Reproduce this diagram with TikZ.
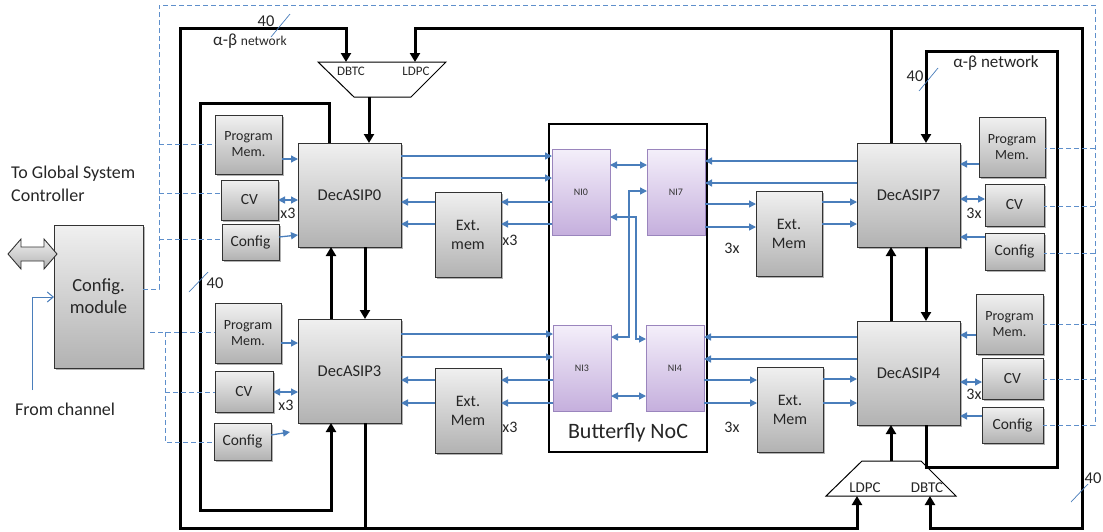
\documentclass[tikz,border=0pt]{standalone}
\usepackage{fontspec}
\setmainfont{Carlito}
\usetikzlibrary{arrows.meta,shadows}
\definecolor{ablue}{HTML}{4A7EBB}
\definecolor{dblue}{HTML}{5E8FCB}
\definecolor{gtop}{HTML}{F0F0F0}
\definecolor{gbot}{HTML}{B2B2B2}
\definecolor{ptop}{HTML}{F4EFFA}
\definecolor{pbot}{HTML}{C5AFDD}
\definecolor{pbord}{HTML}{9A85BD}
\newcommand\fsz[2]{\fontsize{#1}{#2}\selectfont}
\newcommand\mybox[7]{\node[#6, minimum width={(#4-#2)*1pt}, minimum height={(#5-#3)*1pt}] (#1) at ({(#2+#4)/2},{(#3+#5)/2}) {#7};}
\begin{document}
\begin{tikzpicture}[x=1pt,y=-1pt,
  gbox/.style={draw=black!80, line width=0.9pt, top color=gtop, bottom color=gbot,
     drop shadow={shadow xshift=1.5pt,shadow yshift=-1.5pt,fill=black,opacity=0.3},
     inner sep=0pt, outer sep=0pt, align=center, text=black!85},
  nibox/.style={draw=pbord, line width=0.9pt, top color=ptop, bottom color=pbot,
     drop shadow={shadow xshift=1.2pt,shadow yshift=-1.2pt,fill=black,opacity=0.2},
     inner sep=0pt, outer sep=0pt, font=\fsz{10}{12}, text=black!80},
  kline/.style={line width=3pt},
  karrow/.style={line width=3pt, -{Triangle[length=9pt,width=10pt]}},
  barrow/.style={draw=ablue, line width=1.3pt, -{Triangle[length=7pt,width=7pt]}},
  bdarrow/.style={draw=ablue, line width=1.3pt, {Triangle[length=7pt,width=7pt]}-{Triangle[length=7pt,width=7pt]}},
  dline/.style={draw=dblue, line width=1pt, dash pattern=on 5pt off 3pt},
  slash/.style={draw=ablue, line width=0.7pt},
  lbl/.style={inner sep=0pt, text=black!85}
]
\useasboundingbox (0,0) rectangle (1103,531);

% ---------- boxes ----------
\mybox{cfg}{54}{225}{143}{368}{gbox,font=\fsz{18.5}{22}}{Config.\\module}
\mybox{pm0}{215}{115}{282}{174}{gbox,font=\fsz{14}{16}}{Program\\Mem.}
\mybox{cv0}{221}{180}{278}{220}{gbox,font=\fsz{15.5}{18}}{CV}
\mybox{cf0}{222}{224}{279}{260}{gbox,font=\fsz{15.5}{18}}{Config}
\mybox{dec0}{298}{143}{401}{247}{gbox,font=\fsz{16.5}{19}}{DecASIP0}
\mybox{em0}{435}{192}{501}{277}{gbox,font=\fsz{16}{19}}{Ext.\\mem}
\mybox{pm3}{215}{303}{281}{363}{gbox,font=\fsz{14}{16}}{Program\\Mem.}
\mybox{cv3}{215}{371}{273}{412}{gbox,font=\fsz{15.5}{18}}{CV}
\mybox{cf3}{214}{423}{271}{460}{gbox,font=\fsz{15.5}{18}}{Config}
\mybox{dec3}{298}{319}{401}{423}{gbox,font=\fsz{16.5}{19}}{DecASIP3}
\mybox{em3}{435}{368}{501}{453}{gbox,font=\fsz{16}{19}}{Ext.\\Mem}

\node[draw=black, line width=2.8pt, minimum width=158pt, minimum height=328pt, inner sep=0pt] (noc) at (628,288) {};
\node[lbl, font=\fsz{22}{26}] (noclbl) at (628,433) {Butterfly NoC};
\mybox{ni0}{552}{149}{610}{235}{nibox}{NI0}
\mybox{ni7}{647}{149}{705}{235}{nibox}{NI7}
\mybox{ni3}{553}{325}{611}{411}{nibox}{NI3}
\mybox{ni4}{646}{325}{704}{411}{nibox}{NI4}

\mybox{em7}{756}{191}{822}{276}{gbox,font=\fsz{16}{19}}{Ext.\\Mem}
\mybox{em4}{757}{367}{823}{452}{gbox,font=\fsz{16}{19}}{Ext.\\Mem}
\mybox{dec7}{857}{143}{960}{247}{gbox,font=\fsz{16.5}{19}}{DecASIP7}
\mybox{dec4}{857}{321}{960}{425}{gbox,font=\fsz{16.5}{19}}{DecASIP4}
\mybox{pm7}{979}{117}{1045}{177}{gbox,font=\fsz{14}{16}}{Program\\Mem.}
\mybox{cv7}{985}{184}{1044}{226}{gbox,font=\fsz{15.5}{18}}{CV}
\mybox{cf7}{985}{233}{1044}{270}{gbox,font=\fsz{15.5}{18}}{Config}
\mybox{pm4}{976}{294}{1043}{354}{gbox,font=\fsz{14}{16}}{Program\\Mem.}
\mybox{cv4}{982}{358}{1043}{399}{gbox,font=\fsz{15.5}{18}}{CV}
\mybox{cf4}{982}{407}{1043}{443}{gbox,font=\fsz{15.5}{18}}{Config}

% ---------- multiplexers ----------
\draw[line width=1pt, fill=white] (318,62) -- (446,62) -- (411,97) -- (354,97) -- cycle;
\node[lbl, font=\fsz{13}{15}] (tdbtc) at (351,71) {DBTC};
\node[lbl, font=\fsz{13}{15}] (tldpc) at (416,71) {LDPC};
\coordinate (tmDB) at (346,62);
\coordinate (tmLD) at (415,62);
\coordinate (tmOut) at (369,97);

\draw[line width=1pt, fill=white] (862,461) -- (921,461) -- (956,496) -- (826,496) -- cycle;
\node[lbl, font=\fsz{15}{17}] (bldpc) at (865,488) {LDPC};
\node[lbl, font=\fsz{15}{17}] (bdbtc) at (927,488) {DBTC};
\coordinate (bmLD) at (857,496);
\coordinate (bmDB) at (930,496);
\coordinate (bmOut) at (891,461);

% ---------- thick black network ----------
\draw[karrow] (365,0 |- dec3.south) -- (365,528) -- (180,528) -- (180,28) -| (tmDB);
\draw[karrow] (365,528) -| (bmLD);
\draw[karrow] (891,0 |- dec7.north) -- (891,28) -| (tmLD);
\draw[karrow] (891,28) -- (1082,28) -- (1082,528) -| (bmDB);
\draw[karrow] (329,0 |- dec0.north) -- (329,103) -- (200,103) -- (200,510) -| (331,0 |- dec3.south);
\draw[karrow] (tmOut) -- (369,0 |- dec0.north);
\draw[karrow] (331,0 |- dec3.north) -- (331,0 |- dec0.south);
\draw[karrow] (365,0 |- dec0.south) -- (365,0 |- dec3.north);
\draw[karrow] (bmOut) -- (891,0 |- dec4.south);
\draw[karrow] (891,0 |- dec4.north) -- (891,0 |- dec7.south);
\draw[karrow] (926,0 |- dec7.south) -- (926,0 |- dec4.north);
\draw[karrow] (926,0 |- dec4.south) -- (926,467) -- (1057,467) -- (1057,51) -| (926,0 |- dec7.north);

% ---------- blue connectors, left ----------
\draw[barrow] (pm0.east |- 0,159) -- (dec0.west |- 0,159);
\draw[bdarrow] (cv0.east |- 0,200) -- (dec0.west |- 0,200);
\draw[barrow] (cf0.east |- 0,237) -- (dec0.west |- 0,235);
\draw[barrow] (dec0.east |- 0,156) -- (ni0.west |- 0,156);
\draw[barrow] (dec0.east |- 0,178) -- (ni0.west |- 0,178);
\draw[barrow] (ni0.west |- 0,202) -- (em0.east |- 0,202);
\draw[barrow] (ni0.west |- 0,224) -- (em0.east |- 0,224);
\draw[barrow] (em0.west |- 0,202) -- (dec0.east |- 0,202);
\draw[barrow] (em0.west |- 0,224) -- (dec0.east |- 0,224);

\draw[barrow] (pm3.east |- 0,343) -- (dec3.west |- 0,343);
\draw[bdarrow] (cv3.east |- 0,392) -- (dec3.west |- 0,392);
\draw[barrow] (cf3.east |- 0,435) -- (290,432);
\draw[barrow] (dec3.east |- 0,334) -- (ni3.west |- 0,334);
\draw[barrow] (dec3.east |- 0,357) -- (ni3.west |- 0,357);
\draw[barrow] (ni3.west |- 0,380) -- (em3.east |- 0,380);
\draw[barrow] (ni3.west |- 0,403) -- (em3.east |- 0,403);
\draw[barrow] (em3.west |- 0,380) -- (dec3.east |- 0,380);
\draw[barrow] (em3.west |- 0,403) -- (dec3.east |- 0,403);

% ---------- NoC internals ----------
\draw[bdarrow] (ni0.east |- 0,165) -- (ni7.west |- 0,165);
\draw[bdarrow] (ni3.east |- 0,396) -- (ni4.west |- 0,396);
\draw[bdarrow] (ni3.east |- 0,337) -- (629,337) -- (629,191) -- (ni7.west |- 0,191);
\draw[bdarrow] (ni0.east |- 0,217) -- (636,217) -- (636,339) -- (ni4.west |- 0,339);

% ---------- blue connectors, right ----------
\draw[barrow] (dec7.west |- 0,161) -- (ni7.east |- 0,161);
\draw[barrow] (dec7.west |- 0,183) -- (ni7.east |- 0,183);
\draw[barrow] (ni7.east |- 0,204) -- (em7.west |- 0,204);
\draw[barrow] (ni7.east |- 0,227) -- (em7.west |- 0,227);
\draw[barrow] (em7.east |- 0,202) -- (dec7.west |- 0,202);
\draw[barrow] (em7.east |- 0,224) -- (dec7.west |- 0,224);
\draw[barrow] (pm7.west |- 0,164) -- (dec7.east |- 0,164);
\draw[bdarrow] (cv7.west |- 0,199) -- (dec7.east |- 0,199);
\draw[barrow] (cf7.west |- 0,237) -- (dec7.east |- 0,237);

\draw[barrow] (dec4.west |- 0,337) -- (ni4.east |- 0,337);
\draw[barrow] (dec4.west |- 0,359) -- (ni4.east |- 0,359);
\draw[barrow] (ni4.east |- 0,380) -- (em4.west |- 0,380);
\draw[barrow] (ni4.east |- 0,403) -- (em4.west |- 0,403);
\draw[barrow] (em4.east |- 0,379) -- (dec4.west |- 0,379);
\draw[barrow] (em4.east |- 0,403) -- (dec4.west |- 0,403);
\draw[barrow] (pm4.west |- 0,335) -- (dec4.east |- 0,335);
\draw[bdarrow] (cv4.west |- 0,382) -- (dec4.east |- 0,382);
\draw[barrow] (cf4.west |- 0,416) -- (dec4.east |- 0,416);

% ---------- dashed configuration lines ----------
\draw[dline] (cfg.east |- 0,289) -- (159,289) -- (159,5) -- (1095,5) -- (1095,425) -- (cf4.east |- 0,425);
\draw[dline] (159,144) -- (pm0.west |- 0,144);
\draw[dline] (159,193) -- (cv0.west |- 0,193);
\draw[dline] (159,239) -- (cf0.west |- 0,239);
\draw[dline] (1095,148) -- (pm7.east |- 0,148);
\draw[dline] (1095,206) -- (cv7.east |- 0,206);
\draw[dline] (1095,253) -- (cf7.east |- 0,253);
\draw[dline] (1095,324) -- (pm4.east |- 0,324);
\draw[dline] (1095,379) -- (cv4.east |- 0,379);
\draw[dline] (150,332) -- (pm3.west |- 0,332);
\draw[dline] (165,332) -- (165,442) -- (cf3.west |- 0,442);
\draw[dline] (165,392) -- (cv3.west |- 0,392);

% ---------- config module I/O ----------
\draw[black!80, line width=0.9pt, top color=gtop, bottom color=gbot]
  (8,254) -- (21,239) -- (21,247) -- (44,247) -- (44,239) -- (57,254) -- (44,269) -- (44,261) -- (21,261) -- (21,269) -- cycle;
\coordinate (fromch) at (32,390);
\draw[draw=ablue, line width=1pt, -{Straight Barb[length=6pt,width=10pt]}] (fromch) -- (32,297) -- (cfg.west |- 0,297);
\node[lbl, font=\fsz{18}{20}, anchor=west] (fromlbl) at (15,409) {From channel};
\node[lbl, font=\fsz{18}{23}, anchor=west, align=left] (toglob) at (11,184) {To Global System\\Controller};

% ---------- labels ----------
\node[lbl, font=\fsz{16}{18}] (x3a) at (288,213) {x3};
\node[lbl, font=\fsz{16}{18}] (x3b) at (510,240) {x3};
\node[lbl, font=\fsz{16}{18}] (x3c) at (286,405) {x3};
\node[lbl, font=\fsz{16}{18}] (x3d) at (510,427) {x3};
\node[lbl, font=\fsz{16}{18}] (x3e) at (732,248) {3x};
\node[lbl, font=\fsz{16}{18}] (x3f) at (732,427) {3x};
\node[lbl, font=\fsz{16}{18}] (x3g) at (974,213) {3x};
\node[lbl, font=\fsz{16}{18}] (x3h) at (974,394) {3x};

\node[lbl, font=\fsz{16.5}{18}] (n40a) at (266,21) {40};
\draw[slash] (290,14) -- (271,37);
\node[lbl, font=\fsz{16.5}{18}] (n40b) at (215,283) {40};
\draw[slash] (208,272) -- (189,292);
\node[lbl, font=\fsz{16.5}{18}] (n40c) at (915,76) {40};
\draw[slash] (938,68) -- (919,91);
\node[lbl, font=\fsz{16.5}{18}] (n40d) at (1093,478) {40};
\draw[slash] (1088,484) -- (1071,502);

\node[lbl, anchor=west] (abl) at (213,41) {\fsz{17}{19}α-β \fsz{13.5}{15}network};
\node[lbl, font=\fsz{17}{19}] (abr) at (996,63) {α-β network};
\end{tikzpicture}
\end{document}
